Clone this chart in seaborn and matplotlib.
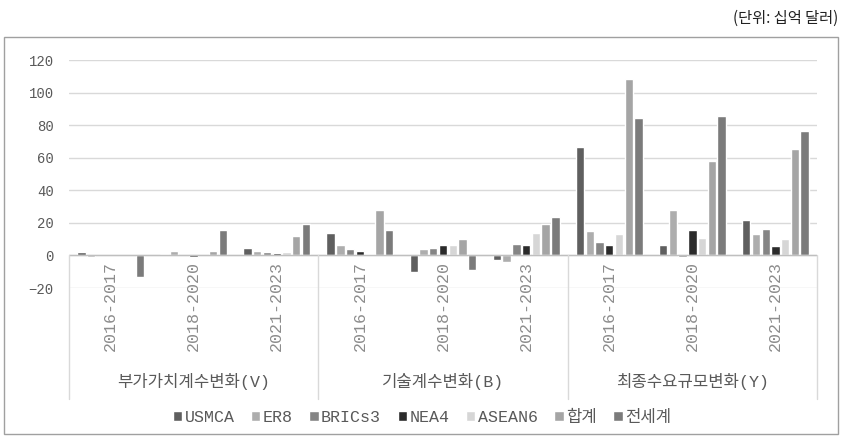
import pandas as pd
import seaborn as sns
import matplotlib.pyplot as plt
from matplotlib.patches import Rectangle

# ======================================
# Data
# ======================================

groups = ["부가가치계수변화(V)", "기술계수변화(B)", "최종수요규모변화(Y)"]
periods = ["2016-2017", "2018-2020", "2021-2023"]
series = ["USMCA", "ER8", "BRICs3", "NEA4", "ASEAN6", "합계", "전세계"]

usmca = [2, 1, 4.5, 14, -10, -3, 66.3, 6.3, 21.6]
er8 = [-1.2, 3, 3, 6.3, 3.7, -3.9, 14.9, 27.8, 13.3]
brics3 = [0, 0, 2.2, 3.7, 4.5, 7.3, 8, -0.8, 16.5]
nea4 = [0, -1, 1.2, 2.9, 6.5, 6.5, 6.3, 15.7, 5.5]
asean6 = [0, 0.5, 1.8, 1, 6.3, 14, 13.3, 10.6, 9.8]
total = [0, 3, 12.2, 27.8, 9.8, 19.2, 108.2, 57.8, 65.3]
world = [-13.5, 15.7, 19, 15.7, -9, 23.5, 84.3, 85.9, 76.5]

colors = ["#5f5f5f", "#adadad", "#858585", "#2b2b2b", "#d6d6d6", "#a5a5a5", "#7b7b7b"]

# ======================================
# Long table
# ======================================

cats = [g + "|" + p for g in groups for p in periods]
rows = []
for name, vals in zip(series, [usmca, er8, brics3, nea4, asean6, total, world]):
    for c, v in zip(cats, vals):
        rows.append({"cat": c, "series": name, "value": v})
df = pd.DataFrame(rows)

# ======================================
# Plot
# ======================================

sns.set_style("white")
mono = ["Liberation Mono", "Noto Sans CJK KR"]
kor = ["Noto Sans CJK KR", "DejaVu Sans"]
plt.rcParams["font.family"] = mono

fig = plt.figure(figsize=(8.44, 4.4), dpi=100)
ax = fig.add_axes([69 / 844, 1 - 288 / 440, (817 - 69) / 844, (288 - 60) / 440])

sns.barplot(data=df, x="cat", y="value", hue="series", order=cats,
            hue_order=series, palette=colors, width=0.82, gap=0.14,
            ax=ax, legend=True)

ax.set_ylim(-20, 120)
ax.set_xlim(-0.5, 8.5)
ax.set_yticks(range(-20, 121, 20))
ax.yaxis.grid(True, color="#d9d9d9", lw=1)
ax.set_axisbelow(True)
ax.axhline(0, color="#bfbfbf", lw=1, zorder=1)
for s in ax.spines.values():
    s.set_visible(False)
ax.tick_params(axis="y", length=0, pad=11, labelsize=10, labelcolor="#595959")
ax.set_xticks([])
ax.set_xlabel("")
ax.set_ylabel("")

# period labels and group labels
for i, c in enumerate(cats):
    ax.text(i, -3.7, c.split("|")[1], rotation=90, ha="center", va="top",
            fontsize=12, color="#8c8c8c", family=mono)
for j, g in enumerate(groups):
    ax.text(3 * j + 1, -77.7, g, ha="center", va="center",
            fontsize=12, color="#595959", family=mono)
for x in [-0.5, 2.5, 5.5, 8.5]:
    ax.plot([x, x], [0, -88], color="#d9d9d9", lw=1, clip_on=False)

# legend
handles, labels = ax.get_legend_handles_labels()
ax.get_legend().remove()
fig.legend(handles, labels, loc="center", bbox_to_anchor=(0.5, 1 - 417 / 440),
           ncol=7, frameon=False, handlelength=0.55, handleheight=0.55,
           handletextpad=0.15, columnspacing=1.0,
           prop={"family": mono, "size": 12}, labelcolor="#595959")

# frame and unit note
fig.patches.append(Rectangle((4 / 844, 1 - 434 / 440), 834 / 844, 397 / 440,
                             transform=fig.transFigure, fill=False,
                             edgecolor="#a0a0a0", lw=1))
fig.text(838 / 844, 1 - 18 / 440, "(단위: 십억 달러)", ha="right", va="center",
         fontsize=11, color="#222222", family=kor)

plt.savefig("out.png", dpi=100)
